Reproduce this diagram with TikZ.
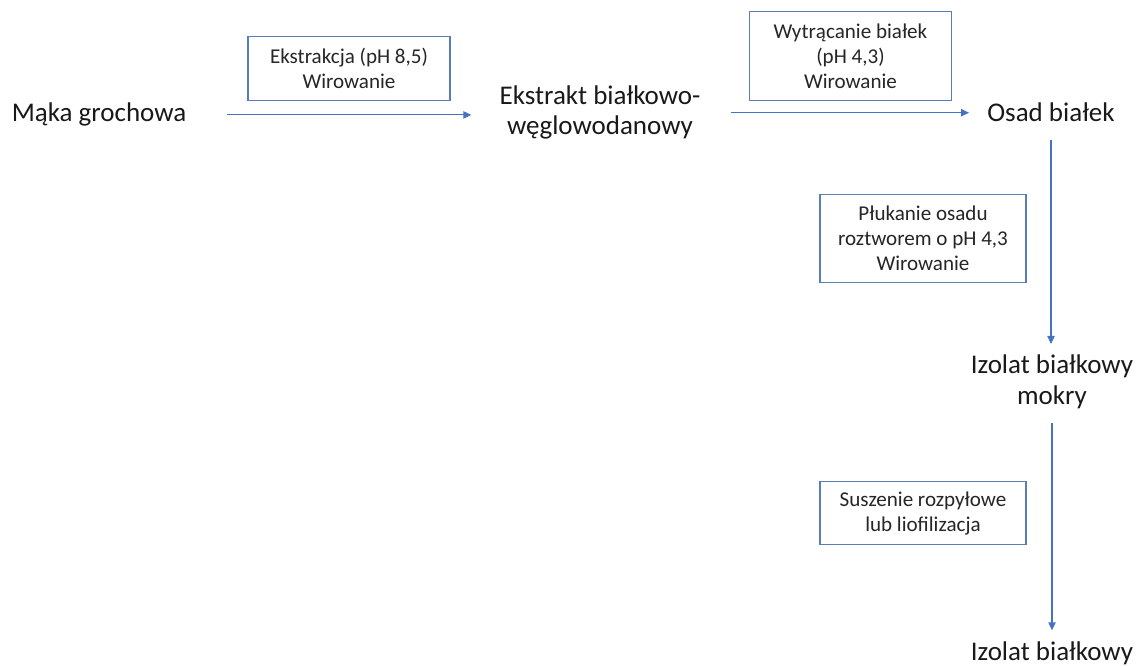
\documentclass[tikz,border=0pt]{standalone}
\usepackage{fontspec}
\setmainfont{Carlito}
\usetikzlibrary{arrows.meta, positioning, calc}

\definecolor{flowblue}{HTML}{4472C4}
\definecolor{boxblue}{HTML}{5A7DB5}

\begin{document}
\begin{tikzpicture}[
    x=0.75pt, y=-0.75pt,
    stage/.style={
      inner sep=0pt, align=center, text=black!90,
      font=\fontsize{20.25}{22.5}\selectfont
    },
    procbox/.style={
      rectangle, draw=boxblue, line width=1pt, fill=white,
      align=center, text=black!85, inner sep=2pt,
      minimum width=151.5pt, minimum height=47.6pt,
      font=\fontsize{15.8}{18.75}\selectfont
    },
    tallbox/.style={procbox, minimum height=66.4pt},
    arr/.style={-{Triangle[length=6pt, width=5.5pt]}, flowblue, line width=0.8pt},
  ]
  \useasboundingbox (0,0) rectangle (1142,666);

  % Stages of the process (base = baseline of the last line)
  \node[stage, anchor=base] (maka) at (99,122) {Mąka grochowa};
  \node[stage, anchor=base] (ekstrakt) at (600,135) {Ekstrakt białkowo-\\węglowodanowy};
  \node[stage, anchor=base] (osad) at (1051,122) {Osad białek};
  \node[stage, anchor=base] (mokry) at (1052,404) {Izolat białkowy\\mokry};
  \node[stage, anchor=base] (izolat) at (1052,660) {Izolat białkowy};

  % Operations written in boxes over the arrows
  \node[procbox] (ekstr) at (349,68.5) {Ekstrakcja (pH 8,5)\\Wirowanie};
  \node[tallbox] (wytr) at (850.5,56) {Wytrącanie białek\\(pH 4,3)\\Wirowanie};
  \node[tallbox, minimum width=154.5pt] (plukanie) at (923,238.5)
    {Płukanie osadu\\roztworem o pH 4,3\\Wirowanie};
  \node[procbox, minimum width=154.5pt] (suszenie) at (923,513)
    {Suszenie rozpyłowe\\lub liofilizacja};

  % Horizontal flow
  \draw[arr, shorten <=30.75pt, shorten >=21pt] (maka.east) -- (maka.east -| ekstrakt.west);
  \draw[arr, shorten <=22.5pt, shorten >=13.5pt] (ekstrakt.east |- osad.west) -- (osad.west);

  % Vertical flow
  \draw[arr, shorten <=13.5pt, shorten >=8.25pt] (osad.south) -- (osad.south |- mokry.north);
  \draw[arr, shorten <=10.9pt, shorten >=8pt] (mokry.south) -- (izolat.north);

\end{tikzpicture}
\end{document}
